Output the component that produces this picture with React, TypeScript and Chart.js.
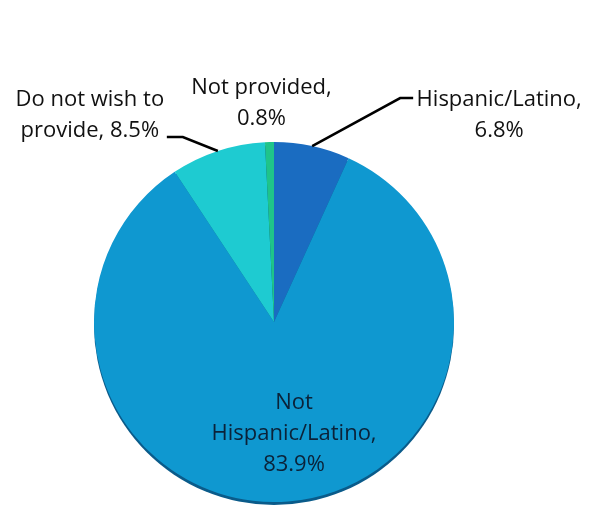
import React, { useEffect, useRef } from "react";
import { Chart, registerables } from "chart.js";

Chart.register(...registerables);

const categories = ["Hispanic/Latino", "Not Hispanic/Latino", "Do not wish to provide", "Not provided"];
const values = [6.8, 83.9, 8.5, 0.8];
const sliceColors = ["#1a6cc1", "#0f98d0", "#1ecbd1", "#1fc489"];
const labelTexts = [
  ["Hispanic/Latino,", "6.8%"],
  ["Not", "Hispanic/Latino,", "83.9%"],
  ["Do not wish to", "provide, 8.5%"],
  ["Not provided,", "0.8%"],
];

// label layout: anchor 'edge' = point on rim at mid angle, 'center' = pie centre
const labelLayout = [
  { anchor: "edge", dx: 187, dy: -46, leader: [[0, 0], [88, -48], [101, -48]], color: "#111" },
  { anchor: "center", dx: 20, dy: 81, leader: null, color: "#0b2238" },
  { anchor: "edge", dx: -128, dy: -51, leader: [[0, 0], [-35, -14], [-51, -14]], color: "#111" },
  { anchor: "edge", dx: -8, dy: -54, leader: null, color: "#111" },
];

const FONT = "22px 'Open Sans', 'Noto Sans', sans-serif";
const LINE_H = 31;

const rimPlugin = {
  id: "rim",
  beforeDatasetsDraw(chart: any) {
    const meta = chart.getDatasetMeta(0);
    const a = meta.data[0];
    if (!a) return;
    const { x, y, outerRadius } = a.getProps(["x", "y", "outerRadius"], true);
    const ctx = chart.ctx;
    ctx.save();
    ctx.beginPath();
    ctx.arc(x, y + 3, outerRadius, 0, Math.PI * 2);
    ctx.fillStyle = "#0a5b8a";
    ctx.fill();
    ctx.restore();
  },
};

const labelPlugin = {
  id: "pieLabels",
  afterDatasetsDraw(chart: any) {
    const meta = chart.getDatasetMeta(0);
    const ctx = chart.ctx;
    ctx.save();
    ctx.font = FONT;
    ctx.textAlign = "center";
    ctx.textBaseline = "middle";
    meta.data.forEach((arc: any, i: number) => {
      const p = arc.getProps(["x", "y", "startAngle", "endAngle", "outerRadius"], true);
      const mid = (p.startAngle + p.endAngle) / 2;
      const lay = labelLayout[i];
      let ax = p.x;
      let ay = p.y;
      if (lay.anchor === "edge") {
        ax = p.x + p.outerRadius * Math.cos(mid);
        ay = p.y + p.outerRadius * Math.sin(mid);
      }
      if (lay.leader) {
        ctx.beginPath();
        lay.leader.forEach((pt: number[], k: number) => {
          if (k === 0) ctx.moveTo(ax + pt[0], ay + pt[1]);
          else ctx.lineTo(ax + pt[0], ay + pt[1]);
        });
        ctx.strokeStyle = "#000";
        ctx.lineWidth = 2.5;
        ctx.stroke();
      }
      ctx.fillStyle = lay.color;
      labelTexts[i].forEach((t, k) => {
        ctx.fillText(t, ax + lay.dx, ay + lay.dy + k * LINE_H);
      });
    });
    ctx.restore();
  },
};

export default function App() {
  const ref = useRef<HTMLCanvasElement>(null);
  useEffect(() => {
    if (!ref.current) return;
    const chart = new Chart(ref.current, {
      type: "pie",
      data: {
        labels: categories,
        datasets: [
          {
            data: values,
            backgroundColor: sliceColors,
            borderWidth: 0,
          },
        ],
      },
      options: {
        animation: false,
        responsive: false,
        maintainAspectRatio: false,
        layout: { padding: { top: 142, bottom: 4, left: 94, right: 136 } },
        plugins: {
          legend: { display: false },
          tooltip: { enabled: false },
        },
      },
      plugins: [rimPlugin, labelPlugin],
    });
    return () => chart.destroy();
  }, []);
  return (
    <div style={{ position: "fixed", left: 0, top: 0, width: 590, height: 506, background: "#fff" }}>
      <canvas ref={ref} width={590} height={506} style={{ display: "block" }} />
    </div>
  );
}
